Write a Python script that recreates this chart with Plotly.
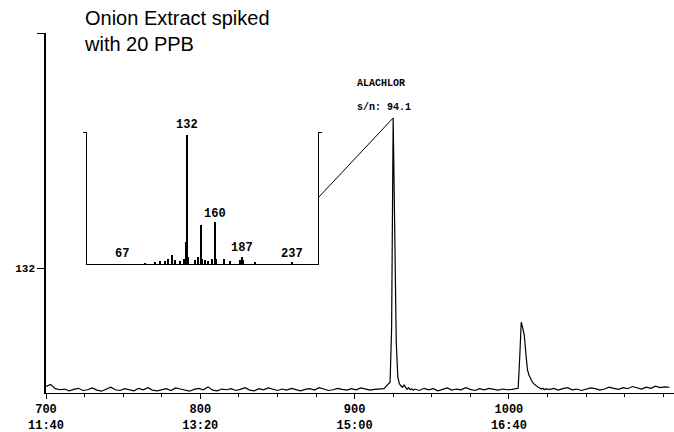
import plotly.graph_objects as go

# ---- main ion chromatogram (m/z 132), scan number vs abundance (% of full scale)
base_a_scans = list(range(700, 921, 3))
base_a = [1.8, 2.4, 1.2, 0.9, 1.1, 0.6, 1.0, 1.3, 0.7, 0.9,
          1.4, 0.8, 0.5, 1.1, 1.6, 0.9, 0.7, 1.2, 1.0, 0.6,
          1.3, 0.9, 1.5, 0.8, 0.6, 1.0, 1.2, 0.7, 1.4, 1.1,
          0.8, 0.5, 1.0, 1.3, 0.9, 1.7, 0.8, 0.6, 1.1, 0.9,
          1.2, 0.7, 1.0, 1.5, 0.8, 0.6, 1.2, 0.9, 1.4, 1.0,
          0.7, 1.1, 0.8, 1.3, 0.9, 0.6, 1.0, 1.2, 0.8, 1.5,
          1.1, 0.7, 0.9, 1.3, 1.0, 0.8, 1.2, 0.9, 1.4, 1.1,
          0.8, 1.0, 1.2]
peak1_scans = [923, 924, 925, 926, 927, 928, 929, 930, 931, 932, 933, 934, 935, 936, 937, 938, 939]
peak1 = [1.2, 3.0, 18.3, 76.4, 42.0, 14.0, 4.5, 2.6, 2.0, 1.6, 2.2, 1.4, 1.0, 1.5, 0.9, 1.2, 0.8]
base_b_scans = list(range(942, 1004, 3))
base_b = [1.1, 0.7, 1.3, 0.9, 1.2, 0.6, 1.0, 1.4, 0.8, 1.1,
          0.9, 1.5, 1.0, 0.7, 1.2, 0.9, 1.3, 1.0, 0.8, 1.1, 0.9]
peak2_scans = [1006, 1007, 1008, 1009, 1010, 1011, 1012, 1013, 1014, 1015, 1016,
               1017, 1018, 1019, 1020, 1021, 1022, 1023, 1024, 1025, 1026, 1027]
peak2 = [1.0, 1.3, 9.7, 19.7, 18.0, 16.0, 11.0, 6.5, 5.0, 4.0, 3.2,
         2.6, 2.2, 1.9, 1.6, 1.4, 1.1, 1.3, 0.9, 1.2, 1.0, 1.1]
base_c_scans = list(range(1029, 1108, 3))
base_c = [1.0, 1.3, 0.8, 1.2, 1.5, 0.9, 1.1, 0.7, 1.0, 1.4,
          1.2, 0.8, 1.1, 1.6, 1.3, 1.0, 1.5, 1.2, 1.8, 1.4,
          1.1, 1.6, 1.3, 1.9, 1.5, 1.7, 1.6]

scans = base_a_scans + peak1_scans + base_b_scans + peak2_scans + base_c_scans
abund = base_a + peak1 + base_b + peak2 + base_c

x_ticks = [700, 800, 900, 1000]
x_time = ["11:40", "13:20", "15:00", "16:40"]
y_tick_vals = [34.7, 100]
y_tick_text = ["132", ""]

# ---- inset mass spectrum of the alachlor peak
masses = [90, 100, 105, 110, 113, 117, 120, 125, 129, 131, 132, 133,
          140, 143, 146, 147, 150, 153, 157, 160, 161, 169, 175, 185, 187, 188, 200, 237]
intens = [1.0, 1.5, 2.0, 2.0, 4.0, 7.0, 3.0, 2.0, 4.0, 17.0, 97.7, 5.0,
          3.0, 5.0, 29.5, 4.0, 3.0, 2.0, 4.0, 31.8, 4.0, 4.0, 2.0, 3.0, 5.3, 3.0, 1.5, 1.5]
label_masses = [67, 132, 160, 187, 237]
label_y = [7.6, 97.7, 37.9, 12.1, 7.6]

compound = "ALACHLOR"
sn_text = "s/n: 94.1"
title_lines = ["Onion Extract spiked", "with 20 PPB"]

X_RANGE = [700, 1107]
Y_RANGE = [0, 100]
IN_X_RANGE = [32, 263]
IN_X_DOM = [0.0653, 0.4331]
IN_Y_DOM = [0.3583, 0.725]

mono = "Liberation Mono"

fig = go.Figure()
fig.add_trace(go.Scatter(x=scans, y=abund, mode="lines",
                         line=dict(color="black", width=1.2), hoverinfo="skip"))

# connector from inset bracket to apex of alachlor peak
apex_i = abund.index(max(abund))
cx0 = X_RANGE[0] + IN_X_DOM[1] * (X_RANGE[1] - X_RANGE[0])
cy0 = (IN_Y_DOM[0] + 0.5 * (IN_Y_DOM[1] - IN_Y_DOM[0])) * (Y_RANGE[1] - Y_RANGE[0])
fig.add_trace(go.Scatter(x=[cx0, scans[apex_i]], y=[cy0, abund[apex_i]], mode="lines",
                         line=dict(color="black", width=1), hoverinfo="skip"))

fig.add_trace(go.Bar(x=masses, y=intens, width=0.8, marker=dict(color="black", line=dict(width=0)),
                     xaxis="x2", yaxis="y2", hoverinfo="skip"))

fig.update_layout(
    width=674, height=432,
    margin=dict(l=46, r=0, t=33, b=39),
    paper_bgcolor="white", plot_bgcolor="white",
    showlegend=False,
    xaxis=dict(range=X_RANGE, tickmode="array", tickvals=x_ticks,
               ticktext=[f"<b>{v}</b><br><b>{t}</b>" for v, t in zip(x_ticks, x_time)],
               showgrid=False, zeroline=False, showline=True, linecolor="black", linewidth=1,
               ticks="outside", ticklen=5, tickcolor="black",
               minor=dict(tick0=700, dtick=25, ticks="outside", ticklen=3, tickcolor="black"),
               tickfont=dict(family=mono, size=12, color="black")),
    yaxis=dict(range=Y_RANGE, tickmode="array", tickvals=y_tick_vals,
               ticktext=[f"<b>{t}</b>" for t in y_tick_text],
               showgrid=False, zeroline=False, showline=True, linecolor="black", linewidth=1.6,
               ticks="outside", ticklen=7, tickcolor="black",
               tickfont=dict(family=mono, size=11, color="black")),
    xaxis2=dict(domain=IN_X_DOM, anchor="y2", range=IN_X_RANGE, showticklabels=False,
                showgrid=False, zeroline=False, showline=True, linecolor="black", linewidth=1,
                ticks=""),
    yaxis2=dict(domain=IN_Y_DOM, anchor="x2", range=[0, 100], showticklabels=False,
                showgrid=False, zeroline=False, showline=True, mirror="ticks",
                linecolor="black", linewidth=1.2,
                tickmode="array", tickvals=[100], ticks="outside", ticklen=3, tickcolor="black"),
    bargap=0,
)

for m, yv in zip(label_masses, label_y):
    top = (m == 132)
    fig.add_annotation(x=m, y=yv, xref="x2", yref="y2", text=f"<b>{m}</b>", showarrow=False,
                       font=dict(family=mono, size=12, color="black"),
                       yanchor="bottom" if top else "middle", yshift=1 if top else 0)

fig.add_annotation(x=900, y=86.1, xref="x", yref="y", text=f"<b>{compound}</b>", showarrow=False,
                   xanchor="left", font=dict(family=mono, size=10, color="black"))
fig.add_annotation(x=900, y=79.2, xref="x", yref="y", text=f"<b>{sn_text}</b>", showarrow=False,
                   xanchor="left", font=dict(family=mono, size=10, color="black"))
fig.add_annotation(x=(82 - 46) / 628, y=1.078, xref="paper", yref="paper",
                   text="<br>".join(title_lines), showarrow=False, xanchor="left", yanchor="top",
                   align="left", font=dict(family="Liberation Sans", size=20, color="black"))

fig.write_html("out.html")
